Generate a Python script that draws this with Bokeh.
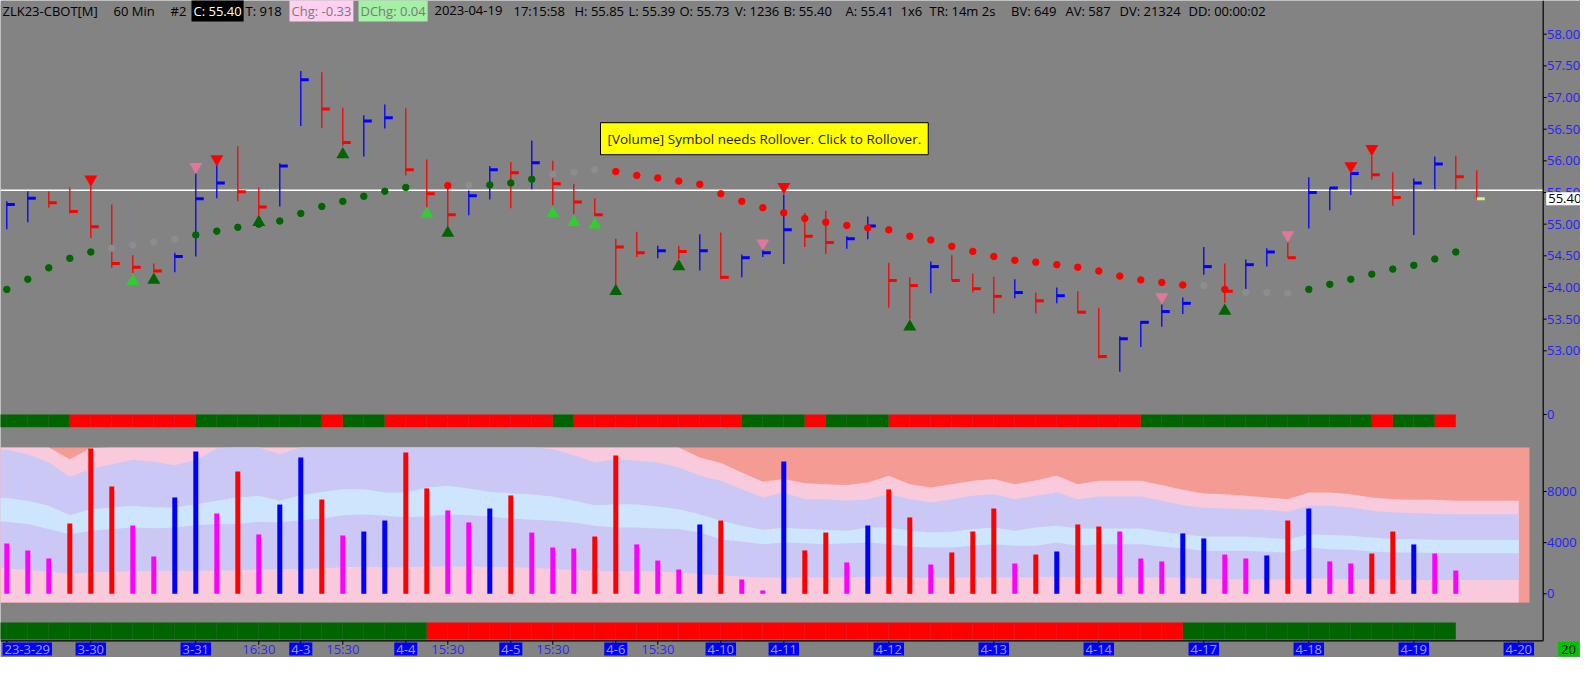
import numpy as np
from bokeh.plotting import figure
from bokeh.models import Range1d, Label, ColumnDataSource
from bokeh.embed import file_html
from bokeh.resources import INLINE

# ----------------------------------------------------------------- data
BAR_HIGH = [55.36, 55.52, 55.52, 55.58, 55.64, 55.31, 54.51, 54.38, 54.55, 55.81,
            55.93, 56.23, 55.58, 55.96, 57.42, 57.40, 56.84, 56.72, 56.89, 56.83,
            56.02, 55.62, 55.53, 55.92, 55.98, 56.32, 56.00, 55.64, 55.41, 54.77,
            54.88, 54.66, 54.66, 54.84, 54.87, 54.52, 54.61, 55.47, 55.18, 55.21,
            54.81, 55.12, 54.39, 54.16, 54.41, 54.51, 54.22, 54.17, 54.13, 53.92,
            54.00, 53.94, 53.68, 53.23, 53.47, 53.73, 53.84, 54.64, 54.38, 54.44,
            54.62, 54.71, 55.74, 55.58, 55.87, 56.08, 55.82, 55.72, 56.07, 56.08,
            55.85]
BAR_LOW = [54.92, 55.03, 55.26, 55.17, 54.78, 54.31, 54.23, 54.24, 54.24, 54.49,
           55.41, 55.36, 55.14, 55.28, 56.55, 56.52, 56.24, 56.07, 56.51, 55.77,
           55.26, 54.97, 55.14, 55.39, 55.25, 55.55, 55.30, 55.16, 55.13, 54.03,
           54.48, 54.46, 54.45, 54.27, 54.13, 54.16, 54.48, 54.37, 54.64, 54.53,
           54.61, 54.76, 53.68, 53.50, 53.91, 54.11, 53.92, 53.59, 53.83, 53.59,
           53.75, 53.59, 52.88, 52.67, 53.06, 53.38, 53.58, 54.20, 53.76, 53.88,
           54.33, 54.47, 54.93, 55.22, 55.46, 55.70, 55.29, 54.83, 55.55, 55.55,
           55.39]
BAR_CLOSE = [55.31, 55.41, 55.34, 55.20, 54.96, 54.38, 54.32, 54.26, 54.49, 55.40,
             55.65, 55.51, 55.27, 55.92, 57.28, 56.82, 56.29, 56.63, 56.68, 55.86,
             55.48, 55.15, 55.45, 55.86, 55.81, 55.97, 55.64, 55.35, 55.15, 54.64,
             54.55, 54.58, 54.57, 54.58, 54.16, 54.47, 54.55, 54.91, 54.81, 54.71,
             54.77, 54.97, 54.11, 54.03, 54.33, 54.11, 53.98, 53.86, 53.92, 53.79,
             53.87, 53.61, 52.91, 53.19, 53.45, 53.62, 53.75, 54.33, 53.94, 54.36,
             54.56, 54.47, 55.50, 55.57, 55.80, 55.78, 55.42, 55.65, 55.95, 55.75,
             55.40]
BAR_DIR = ["u", "u", "d", "d", "d", "d", "d", "d", "u", "u",
           "u", "d", "d", "u", "u", "d", "d", "u", "u", "d",
           "d", "d", "u", "u", "d", "u", "d", "d", "d", "d",
           "d", "u", "d", "u", "d", "u", "u", "u", "d", "d",
           "u", "u", "d", "d", "u", "d", "d", "d", "u", "d",
           "u", "d", "d", "u", "u", "u", "u", "u", "d", "u",
           "u", "d", "u", "u", "u", "d", "d", "u", "u", "d",
           "d"]
LAST_PRICE = 55.40
WHITE_LINE_PRICE = 55.535

SAR_PRICE = [53.97, 54.13, 54.31, 54.46, 54.56, 54.62, 54.67, 54.72, 54.76, 54.83,
             54.89, 54.95, 55.00, 55.05, 55.17, 55.28, 55.36, 55.44, 55.52, 55.58,
             None, 55.61, 55.62, 55.62, 55.65, 55.71, 55.79, 55.82, 55.86, 55.83,
             55.77, 55.73, 55.68, 55.63, 55.48, 55.36, 55.26, 55.18, 55.09, 55.03,
             54.98, 54.94, 54.91, 54.81, 54.75, 54.65, 54.57, 54.49, 54.43, 54.40,
             54.36, 54.32, 54.26, 54.18, 54.12, 54.08, 54.04, 54.03, 53.97, 53.92,
             53.92, 53.91, 53.97, 54.05, 54.13, 54.21, 54.29, 54.35, 54.45, 54.56,
             None]
SAR_STATE = ["g", "g", "g", "g", "g", "n", "n", "n", "n", "g",
             "g", "g", "g", "g", "g", "g", "g", "g", "g", "g",
             None, "r", "n", "g", "g", "g", "n", "n", "n", "r",
             "r", "r", "r", "r", "r", "r", "r", "r", "r", "r",
             "r", "r", "r", "r", "r", "r", "r", "r", "r", "r",
             "r", "r", "r", "r", "r", "r", "r", "n", "r", "n",
             "n", "n", "g", "g", "g", "g", "g", "g", "g", "g",
             None]

TRI_DOWN_BAR = [4, 9, 10, 36, 37, 55, 61, 64, 65]
TRI_DOWN_PRICE = [55.71, 55.905, 56.03, 54.70, 55.59, 53.85, 54.83, 55.92, 56.19]
TRI_DOWN_KIND = ["strong", "weak", "strong", "weak", "strong", "weak", "weak", "strong", "strong"]
TRI_UP_BAR = [6, 7, 12, 16, 20, 21, 26, 27, 28, 29, 32, 43, 58]
TRI_UP_PRICE = [54.10, 54.12, 55.03, 56.10, 55.16, 54.86, 55.17, 55.03, 54.99, 53.94, 54.33, 53.38, 53.63]
TRI_UP_KIND = ["weak", "strong", "strong", "strong", "weak", "strong", "weak", "weak", "weak",
               "strong", "strong", "strong", "strong"]

VOLUME = [3930, 3390, 2760, 5500, 11360, 8390, 5340, 2920, 7530, 11130,
          6280, 9560, 4640, 6980, 10660, 7370, 4560, 4870, 5730, 11050,
          8240, 6520, 5580, 6670, 7690, 4790, 3620, 3540, 4480, 10810,
          3860, 2600, 1900, 5420, 5730, 1120, 260, 10350, 3390, 4790,
          2450, 5340, 8160, 5970, 2290, 3230, 4870, 6670, 2370, 3070,
          3310, 5420, 5260, 4870, 2760, 2530, 4720, 4330, 3070, 2760,
          3000, 5730, 6670, 2530, 2370, 3150, 4870, 3860, 3150, 1820]
VOL_KIND = ["m", "m", "m", "r", "r", "r", "m", "m", "b", "b",
            "m", "r", "m", "b", "b", "r", "m", "b", "b", "r",
            "r", "m", "m", "b", "r", "m", "m", "m", "r", "r",
            "m", "m", "m", "b", "r", "m", "m", "b", "r", "r",
            "m", "b", "r", "r", "m", "r", "r", "r", "m", "r",
            "b", "r", "r", "m", "m", "m", "b", "b", "m", "m",
            "b", "r", "b", "m", "m", "r", "r", "b", "m", "m"]

# volume envelope bands, bars -1 .. 72
BAND_FIRST_BAR = -1
BAND_A = [12000, 11900, 11700, 11450, 10530, 11400, 11900, 12200, 12300, 12300,
          12400, 12600, 13000, 13000, 12600, 13000, 13300, 13600, 13600, 13400,
          13400, 13700, 13800, 13600, 13300, 13100, 12800, 12600, 12400, 12200,
          12300, 12100, 11800, 11440, 10660, 10220, 9490, 8760, 8970, 8650,
          8570, 8500, 8700, 9230, 8570, 8310, 8570, 8840, 8970, 8570,
          8860, 9230, 8570, 8840, 8840, 8840, 8500, 8130, 7840, 7790,
          7660, 7530, 7400, 7920, 7920, 7790, 7530, 7400, 7350, 7350,
          7270, 7270, 7270, 7270]
BAND_B = [11400, 11260, 10920, 10270, 9150, 9750, 10140, 10480, 10320, 10060,
          10480, 11360, 11700, 11550, 10920, 11440, 11800, 12100, 12300, 12200,
          12200, 12400, 12500, 12300, 12100, 11900, 11600, 11300, 10840, 10270,
          10530, 10400, 10270, 9880, 9230, 8840, 8180, 7530, 7920, 7400,
          7400, 7270, 7400, 7790, 7400, 7140, 7400, 7660, 7790, 7400,
          7660, 7920, 7400, 7610, 7610, 7610, 7270, 6930, 6720, 6670,
          6620, 6570, 6410, 6880, 6880, 6750, 6490, 6360, 6310, 6250,
          6230, 6230, 6230, 6230]
BAND_C = [7560, 7500, 7270, 6880, 6150, 6620, 6750, 6880, 6750, 6750,
          7010, 7270, 7530, 7660, 7270, 7710, 7970, 8180, 8180, 7920,
          7920, 8310, 8440, 8240, 7970, 7870, 7770, 7610, 7270, 6930,
          7010, 6980, 6830, 6620, 6230, 5710, 5320, 5000, 5160, 5060,
          5000, 4930, 5190, 5190, 4930, 4790, 4850, 5060, 5190, 4930,
          5190, 5320, 5110, 5110, 5110, 5110, 4850, 4660, 4480, 4480,
          4480, 4380, 4270, 4660, 4590, 4530, 4400, 4270, 4270, 4220,
          4200, 4200, 4200, 4200]
BAND_D = [5680, 5630, 5450, 5060, 4660, 4930, 5060, 5190, 5130, 5190,
          5370, 5450, 5450, 5630, 5580, 5760, 5890, 6150, 6230, 6100,
          5990, 6070, 6200, 6150, 6050, 5890, 5790, 5710, 5580, 5320,
          5190, 5190, 5110, 5060, 4790, 4270, 4090, 3880, 4010, 3960,
          3880, 3960, 4010, 3880, 3700, 3620, 3620, 3750, 3880, 3750,
          3750, 4010, 3750, 3880, 3880, 3880, 3700, 3540, 3360, 3360,
          3360, 3280, 3230, 3620, 3490, 3440, 3310, 3230, 3230, 3200,
          3180, 3180, 3180, 3180]
BAND_E = [2030, 1980, 1870, 1720, 1540, 1670, 1720, 1770, 1800, 1800,
          1800, 1820, 1850, 1900, 1930, 1930, 2000, 2080, 2140, 2080,
          2080, 2140, 2140, 2140, 2110, 2080, 2030, 1930, 1870, 1800,
          1740, 1800, 1740, 1670, 1540, 1460, 1350, 1280, 1280, 1280,
          1280, 1300, 1330, 1350, 1280, 1250, 1280, 1300, 1300, 1300,
          1300, 1350, 1250, 1280, 1280, 1280, 1280, 1280, 1200, 1140,
          1140, 1140, 1090, 1220, 1200, 1140, 1140, 1090, 1070, 1070,
          1070, 1070, 1070, 1070]

# state strips: one state per interval [k, k+1], k = -1 .. 68
STRIP_FIRST = -1
TREND_STRIP = (["g"] * 4 + ["r"] * 6 + ["g"] * 6 + ["r"] + ["g"] * 2 + ["r"] * 8 + ["g"] +
               ["r"] * 8 + ["g"] * 3 + ["r"] + ["g"] * 3 + ["r"] * 12 + ["g"] * 11 +
               ["r"] + ["g"] * 2 + ["r"])
LOWER_STRIP = ["g"] * 21 + ["r"] * 36 + ["g"] * 13

DATE_TICKS = [0, 4, 9, 14, 19, 24, 29, 34, 37, 42, 47, 52, 57, 62, 67, 72]
DATE_LABELS = ["23-3-29", "3-30", "3-31", "4-3", "4-4", "4-5", "4-6", "4-10", "4-11",
               "4-12", "4-13", "4-14", "4-17", "4-18", "4-19", "4-20"]
TIME_TICKS = [12, 16, 21, 26, 31]
TIME_LABELS = ["16:30", "15:30", "15:30", "15:30", "15:30"]
PRICE_TICKS = [53.0, 53.5, 54.0, 54.5, 55.0, 55.5, 56.0, 56.5, 57.0, 57.5, 58.0]
VOL_TICKS = [0, 4000, 8000]
STRIP_TICK_LABEL = "0"

HEADER = [("ZLK23-CBOT[M]", None), ("60 Min", None), ("#2", None), ("C: 55.40", "close"),
          ("T: 918", None), ("Chg: -0.33", "chg"), ("DChg: 0.04", "dchg"),
          ("2023-04-19", None), ("17:15:58", None), ("H: 55.85", None), ("L: 55.39", None),
          ("O: 55.73", None), ("V: 1236", None), ("B: 55.40", None), ("A: 55.41", None),
          ("1x6", None), ("TR: 14m 2s", None), ("BV: 649", None), ("AV: 587", None),
          ("DV: 21324", None), ("DD: 00:00:02", None)]
HEADER_X = [10, 121, 178, 199, 253, 297, 366, 442, 521, 582, 636, 687, 742.5, 791,
            853, 908, 937, 1018.6, 1073, 1127, 1196]
MESSAGE = "[Volume] Symbol needs Rollover. Click to Rollover."
CORNER_TEXT = "20"

# ----------------------------------------------------------------- layout (window px)
PX_BAR0, PX_PER_BAR = 14.3, 21.0
CANVAS_L, CANVAS_R, CANVAS_T, CANVAS_B = 8.0, 1588.0, 8.0, 665.0
AXIS_X, AXIS_Y = 1550.7, 648.3
PRICE_ANCHOR, PRICE_ANCHOR_PX, PX_PER_PRICE = 58.0, 41.7, 63.32
VOL_ZERO_PX, PX_PER_VOL = 601.3, 0.012788
VOL_PANE = (0.0, 1537.0, 455.0, 610.0)       # left, right, top, bottom
STRIP_Y = (422.0, 434.7)
LOWER_Y = (630.0, 647.0)
STRIP_ZERO_PX = 422.0
HEADER_Y = 18.0
DATE_LABEL_Y = 656.5

BG = "#838383"
FONT = "Open Sans"
UP, DN, MAG = "#0000ff", "#ff0000", "#ff00ff"
DKGREEN, LIME, PINKTRI = "#006400", "#32cd32", "#e0789a"
AXIS_TEXT = "#2222ff"


def px_to_price(px):
    return PRICE_ANCHOR - (px - PRICE_ANCHOR_PX) / PX_PER_PRICE


def px_to_vol(px):
    return (VOL_ZERO_PX - px) / PX_PER_VOL


def px_to_bar(px):
    return (px - PX_BAR0) / PX_PER_BAR


p = figure(width=int(CANVAS_R - CANVAS_L), height=int(CANVAS_B - CANVAS_T),
           x_range=Range1d(px_to_bar(CANVAS_L), px_to_bar(CANVAS_R)),
           y_range=Range1d(CANVAS_B, CANVAS_T),
           x_axis_location=None, y_axis_location=None,
           toolbar_location=None, output_backend="svg",
           min_border_left=0, min_border_top=0, min_border_right=0, min_border_bottom=0)
p.background_fill_color = BG
p.border_fill_color = BG
p.outline_line_color = None
p.grid.visible = False
p.extra_y_ranges = {"price": Range1d(px_to_price(CANVAS_B), px_to_price(CANVAS_T)),
                    "vol": Range1d(px_to_vol(CANVAS_B), px_to_vol(CANVAS_T))}
p.extra_x_ranges = {"px": Range1d(CANVAS_L, CANVAS_R)}

# ---------------- volume pane
VOL_TOP = px_to_vol(VOL_PANE[2])
VOL_BOTTOM = px_to_vol(VOL_PANE[3])
p.quad(left=[VOL_PANE[0]], right=[VOL_PANE[1]], top=[VOL_PANE[2]], bottom=[VOL_PANE[3]],
       x_range_name="px", fill_color="#f49b94", line_color=None)
band_x = list(range(BAND_FIRST_BAR, BAND_FIRST_BAR + len(BAND_A)))
clip = lambda a: np.minimum(np.array(a, dtype=float), VOL_TOP)
p.varea(x=band_x, y1=[VOL_BOTTOM] * len(band_x), y2=clip(BAND_A), fill_color="#f9c9dc", y_range_name="vol")
p.varea(x=band_x, y1=clip(BAND_E), y2=clip(BAND_B), fill_color="#cbc8f5", y_range_name="vol")
p.varea(x=band_x, y1=clip(BAND_D), y2=clip(BAND_C), fill_color="#cde6fd", y_range_name="vol")

vol_colors = {"m": MAG, "r": DN, "b": UP}
vsrc = ColumnDataSource(dict(x=list(range(len(VOLUME))), top=VOLUME,
                             color=[vol_colors[k] for k in VOL_KIND]))
p.vbar(x="x", top="top", bottom=0, width=5.0 / PX_PER_BAR, fill_color="color", line_color=None,
       y_range_name="vol", source=vsrc)

# ---------------- state strips
strip_colors = {"g": DKGREEN, "r": DN}
for states, (yt, yb) in ((TREND_STRIP, STRIP_Y), (LOWER_STRIP, LOWER_Y)):
    left = [STRIP_FIRST + k for k in range(len(states))]
    p.quad(left=left, right=[l + 1 for l in left], top=[yt] * len(left), bottom=[yb] * len(left),
           fill_color=[strip_colors[s] for s in states], line_color=None)

# ---------------- price pane
p.segment(x0=[CANVAS_L], x1=[AXIS_X], y0=[WHITE_LINE_PRICE], y1=[WHITE_LINE_PRICE],
          x_range_name="px", y_range_name="price", line_color="white", line_width=1.5)

N = len(BAR_CLOSE)
bar_colors = [UP if d == "u" else DN for d in BAR_DIR]
close_colors = list(bar_colors)
close_colors[-1] = "#c8f58c"
CLOSE_TICK = 8.0 / PX_PER_BAR
bsrc = ColumnDataSource(dict(x=list(range(N)), xt=[i + CLOSE_TICK for i in range(N)],
                             hi=BAR_HIGH, lo=BAR_LOW, cl=BAR_CLOSE, col=bar_colors, ccol=close_colors))
p.segment(x0="x", y0="lo", x1="x", y1="hi", line_color="col", line_width=1.3,
          y_range_name="price", source=bsrc)
p.segment(x0="x", y0="cl", x1="xt", y1="cl", line_color="ccol", line_width=3,
          y_range_name="price", source=bsrc)

sar_colors = {"g": DKGREEN, "r": DN, "n": "#8d8d8d"}
sar_x = [i for i, v in enumerate(SAR_PRICE) if v is not None]
p.scatter(x=sar_x, y=[SAR_PRICE[i] for i in sar_x], size=6.5, marker="circle",
          fill_color=[sar_colors[SAR_STATE[i]] for i in sar_x],
          line_color=[sar_colors[SAR_STATE[i]] for i in sar_x], y_range_name="price")

p.scatter(x=TRI_DOWN_BAR, y=TRI_DOWN_PRICE, marker="inverted_triangle", size=13,
          fill_color=[DN if k == "strong" else PINKTRI for k in TRI_DOWN_KIND],
          line_color=None, y_range_name="price")
p.scatter(x=TRI_UP_BAR, y=TRI_UP_PRICE, marker="triangle", size=13,
          fill_color=[DKGREEN if k == "strong" else LIME for k in TRI_UP_KIND],
          line_color=None, y_range_name="price")

# ---------------- right value scale (drawn through the pane scales)
p.segment(x0=[AXIS_X], x1=[AXIS_X], y0=[CANVAS_T], y1=[AXIS_Y], x_range_name="px",
          line_color="black", line_width=1.2)
TICK_END = AXIS_X + 3.5
LABEL_X = AXIS_X + 3.8
scale_ticks = ([(v, "price", f"{v:.2f}") for v in PRICE_TICKS] +
               [(STRIP_ZERO_PX, "default", STRIP_TICK_LABEL)] +
               [(v, "vol", str(v)) for v in VOL_TICKS])
for val, rng, txt in scale_ticks:
    p.segment(x0=[AXIS_X], x1=[TICK_END], y0=[val], y1=[val], x_range_name="px",
              y_range_name=rng, line_color="black", line_width=1)
    p.add_layout(Label(x=LABEL_X, y=val, x_range_name="px", y_range_name=rng, text=txt,
                       text_align="left", text_baseline="middle", text_font=FONT,
                       text_font_size="13px", text_color=AXIS_TEXT))

p.add_layout(Label(x=AXIS_X + 3.0, y=LAST_PRICE, x_range_name="px", y_range_name="price",
                   text=f"{LAST_PRICE:.2f}", text_align="left", text_baseline="middle",
                   text_font=FONT, text_font_size="13px", text_color="black",
                   background_fill_color="white", padding=2))

# ---------------- time scale (drawn through the bar scale)
p.segment(x0=[CANVAS_L], x1=[AXIS_X], y0=[AXIS_Y], y1=[AXIS_Y], x_range_name="px",
          line_color="black", line_width=1.2)
all_ticks = DATE_TICKS + TIME_TICKS
p.segment(x0=all_ticks, x1=all_ticks, y0=[AXIS_Y] * len(all_ticks), y1=[AXIS_Y + 4] * len(all_ticks),
          line_color="black", line_width=1)
for t, txt in zip(DATE_TICKS, DATE_LABELS):
    first = t == DATE_TICKS[0]
    p.add_layout(Label(x=(CANVAS_L + 2) if first else t, x_range_name="px" if first else "default",
                       y=DATE_LABEL_Y, text=txt, text_align="left" if first else "center",
                       text_baseline="middle", text_font=FONT, text_font_size="13px",
                       text_color="#a2a2dc", background_fill_color="#0000ff", padding=2))
for t, txt in zip(TIME_TICKS, TIME_LABELS):
    p.add_layout(Label(x=t, y=DATE_LABEL_Y, text=txt, text_align="center", text_baseline="middle",
                       text_font=FONT, text_font_size="13px", text_color="#2a2aff"))
p.add_layout(Label(x=1576, y=DATE_LABEL_Y, x_range_name="px", text=CORNER_TEXT, text_align="center",
                   text_baseline="middle", text_font=FONT, text_font_size="13px", text_color="black",
                   background_fill_color="#00c400", padding=3))

# ---------------- header and message
box_styles = {None: (None, "black"), "close": ("black", "white"),
              "chg": ("#ffd0f0", "#7a7a7a"), "dchg": ("#a4f0a4", "#7a7a7a")}
for (txt, kind), x in zip(HEADER, HEADER_X):
    bgc, tc = box_styles[kind]
    kw = dict(background_fill_color=bgc, padding=2) if bgc else {}
    p.add_layout(Label(x=x, y=HEADER_Y, x_range_name="px", text=txt, text_align="left",
                       text_baseline="middle", text_font=FONT, text_font_size="13px",
                       text_color=tc, **kw))

p.add_layout(Label(x=608, y=146.2, x_range_name="px", text=MESSAGE, text_align="left",
                   text_baseline="middle", text_font=FONT, text_font_size="13.5px",
                   text_color="#1c1c08", background_fill_color="#ffff00",
                   border_line_color="black", border_line_width=1, padding=7))

open("out.html", "w").write(file_html(p, INLINE))
